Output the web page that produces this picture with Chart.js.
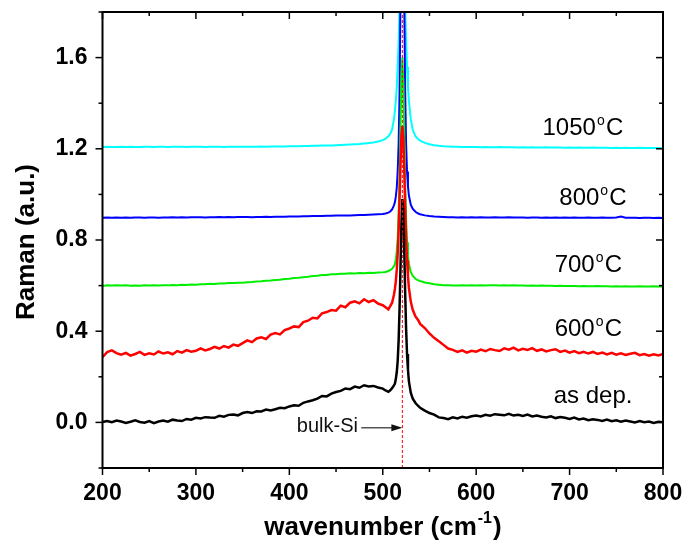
<!DOCTYPE html>
<html>
<head>
<meta charset="utf-8">
<script src="https://cdn.jsdelivr.net/npm/chart.js@4.4.1/dist/chart.umd.min.js"></script>
<style>
  html, body { margin: 0; padding: 0; background: #fff; }
  #wrap { width: 683px; height: 547px; }
</style>
</head>
<body>
<div id="wrap"><canvas id="grafico" width="683" height="547"></canvas></div>
<script>
// wavenumber grid (cm-1), denser around the Si peak
const wavenumber = [
  200,205,210,215,220,225,230,235,240,245,250,255,260,265,270,275,280,285,290,295,300,
  305,310,315,320,325,330,335,340,345,350,355,360,365,370,375,380,385,390,395,400,
  405,410,415,420,425,430,435,440,445,450,455,460,465,470,475,480,485,490,495,500,
  503,506,508,510,512,513,514,515,516,517,518,519,520,521,522,523,524,525,526,527,528,530,532,535,538,
  540,545,550,555,560,565,570,575,580,585,590,595,
  600,605,610,615,620,625,630,635,640,645,650,655,660,665,670,675,680,685,690,695,
  700,705,710,715,720,725,730,735,740,745,750,755,760,765,770,775,780,785,790,795,800
];

const asDep = [
  0.002,0.006,0.001,0.008,0.004,-0.002,0.003,0.009,0.002,-0.001,0.006,-0.003,0.004,0.008,0.003,0.012,0.008,0.006,0.015,0.012,0.020,
  0.017,0.023,0.021,0.020,0.029,0.025,0.033,0.035,0.031,0.041,0.046,0.041,0.049,0.048,0.056,0.052,0.058,0.064,0.062,0.070,
  0.075,0.073,0.086,0.092,0.097,0.104,0.116,0.114,0.126,0.133,0.138,0.149,0.146,0.157,0.152,0.163,0.158,0.160,0.153,0.148,
  0.140,0.134,0.141,0.150,0.162,0.17,0.19,0.22,0.27,0.36,0.50,0.68,0.87,0.98,0.93,0.76,0.57,0.41,0.30,0.23,0.18,0.13,0.105,0.085,0.072,
  0.064,0.052,0.041,0.034,0.022,0.019,0.014,0.022,0.017,0.025,0.021,0.027,
  0.030,0.026,0.033,0.029,0.036,0.034,0.031,0.038,0.030,0.033,0.028,0.034,0.026,0.030,0.025,0.022,0.027,0.019,0.024,0.020,
  0.015,0.021,0.013,0.017,0.010,0.014,0.011,0.006,0.012,0.005,0.009,0.003,0.008,0.004,0.000,0.006,0.001,0.004,-0.002,0.003,0.001
];

const t600 = [
  0.286,0.308,0.316,0.304,0.297,0.305,0.293,0.300,0.309,0.296,0.303,0.298,0.311,0.302,0.307,0.299,0.313,0.306,0.317,0.310,0.314,
  0.325,0.316,0.322,0.331,0.324,0.335,0.328,0.341,0.336,0.348,0.360,0.352,0.368,0.373,0.366,0.385,0.392,0.386,0.405,0.412,
  0.421,0.418,0.440,0.446,0.459,0.456,0.478,0.484,0.493,0.490,0.512,0.505,0.525,0.531,0.522,0.540,0.528,0.536,0.521,0.514,
  0.505,0.496,0.510,0.525,0.56,0.585,0.62,0.67,0.74,0.84,0.98,1.13,1.26,1.30,1.25,1.11,0.95,0.81,0.71,0.64,0.59,0.53,0.495,0.465,0.448,
  0.432,0.414,0.390,0.371,0.356,0.340,0.324,0.318,0.309,0.316,0.306,0.314,
  0.310,0.319,0.312,0.322,0.317,0.313,0.325,0.319,0.328,0.316,0.323,0.318,0.326,0.314,0.320,0.311,0.317,0.321,0.309,0.315,
  0.306,0.313,0.304,0.310,0.302,0.309,0.300,0.306,0.298,0.305,0.297,0.303,0.296,0.301,0.305,0.295,0.300,0.293,0.299,0.294,0.300
];

const t700 = [
  0.598,0.601,0.600,0.602,0.600,0.601,0.599,0.600,0.599,0.601,0.600,0.601,0.600,0.602,0.601,0.603,0.602,0.604,0.603,0.605,0.604,
  0.606,0.606,0.608,0.607,0.609,0.609,0.611,0.611,0.613,0.613,
  0.615,0.616,0.618,0.619,0.621,0.622,0.625,0.626,0.629,0.630,
  0.633,0.634,0.637,0.639,0.642,0.643,0.646,0.647,0.650,0.650,
  0.652,0.652,0.654,0.653,0.655,0.654,0.656,0.655,0.657,0.658,
  0.660,0.664,0.668,0.674,0.685,0.695,0.715,0.750,0.810,0.920,1.080,1.300,1.510,1.600,1.500,1.280,1.050,0.890,0.790,0.730,0.695,0.660,0.643,0.630,0.623,
  0.620,0.614,0.610,0.606,0.604,0.602,
  0.601,0.600,0.600,0.601,0.600,0.601,
  0.600,0.601,0.600,0.601,0.601,0.600,0.601,0.600,0.601,0.600,
  0.600,0.599,0.600,0.599,0.600,0.599,0.599,0.598,0.599,0.598,
  0.598,0.598,0.597,0.598,0.597,0.597,0.598,0.597,0.597,0.596,
  0.597,0.596,0.597,0.596,0.596,0.597,0.596,0.596,0.597,0.596,0.596
];

const t800 = [
  0.898,0.899,0.898,0.899,0.898,0.899,0.898,0.899,0.899,0.898,0.899,0.899,0.898,0.899,0.899,0.900,0.899,0.900,0.899,0.900,0.900,
  0.900,0.899,0.900,0.900,0.901,0.900,0.901,0.900,0.901,0.901,
  0.901,0.900,0.901,0.901,0.902,0.901,0.902,0.902,0.902,0.903,
  0.903,0.903,0.904,0.904,0.905,0.905,0.905,0.906,0.906,0.907,
  0.907,0.908,0.908,0.909,0.910,0.910,0.911,0.912,0.913,0.914,
  0.916,0.920,0.925,0.934,0.952,0.966,0.990,1.030,1.100,1.220,1.450,1.850,2.350,2.600,2.350,1.850,1.450,1.220,1.100,1.035,0.995,0.955,0.937,0.924,0.916,
  0.913,0.908,0.905,0.903,0.902,0.901,
  0.900,0.900,0.899,0.900,0.899,0.900,
  0.899,0.900,0.899,0.899,0.900,0.899,0.899,0.900,0.899,0.899,
  0.899,0.898,0.899,0.899,0.898,0.899,0.898,0.899,0.898,0.899,
  0.898,0.899,0.898,0.898,0.899,0.898,0.898,0.899,0.898,0.898,
  0.899,0.903,0.898,0.898,0.898,0.897,0.898,0.898,0.897,0.898,0.897
];

const t1050 = [
  1.208,1.209,1.208,1.208,1.209,1.208,1.209,1.208,1.208,1.209,1.209,1.208,1.209,1.209,1.208,1.209,1.209,1.209,1.208,1.209,1.209,
  1.209,1.208,1.209,1.209,1.209,1.208,1.209,1.209,1.209,1.209,
  1.209,1.209,1.209,1.210,1.209,1.210,1.210,1.210,1.210,1.211,
  1.211,1.211,1.212,1.212,1.213,1.213,1.214,1.214,1.215,1.216,
  1.217,1.218,1.219,1.220,1.221,1.223,1.225,1.228,1.232,1.238,
  1.244,1.255,1.266,1.285,1.330,1.365,1.410,1.470,1.560,1.670,1.820,2.100,2.500,2.700,2.500,2.100,1.820,1.670,1.560,1.470,1.410,1.330,1.285,1.255,1.242,
  1.236,1.226,1.220,1.216,1.213,1.211,
  1.210,1.209,1.209,1.208,1.208,1.208,
  1.208,1.207,1.208,1.207,1.207,1.208,1.207,1.207,1.207,1.206,
  1.207,1.206,1.207,1.206,1.206,1.207,1.206,1.206,1.206,1.205,
  1.206,1.205,1.206,1.205,1.205,1.206,1.205,1.205,1.205,1.204,
  1.205,1.204,1.205,1.204,1.204,1.205,1.204,1.204,1.204,1.203,1.204
];

const bulkSi = 521;
const seriesNames = ['as dep.', '600', '700', '800', '1050'];
const seriesColors = ['#000000', '#ff0000', '#00ee00', '#0000ff', '#00ffff'];
const seriesWidths = [2.5, 2.5, 2, 2, 2];
const xMajor = [200, 300, 400, 500, 600, 700, 800];
const yMajor = [0.0, 0.4, 0.8, 1.2, 1.6];

// where the curve names sit (data units)
const labelAt = [[683, 0.086], [684, 0.38], [684, 0.66], [689, 0.955], [671, 1.262]];

const pts = ys => wavenumber.map((x, i) => ({ x: x, y: ys[i] }));

Chart.defaults.font.family = '"Liberation Sans", Arial, sans-serif';
Chart.defaults.color = '#000';

const decor = {
  id: 'decor',
  afterDraw(chart) {
    const { ctx, chartArea: a, scales: { x, y } } = chart;
    ctx.save();
    ctx.strokeStyle = '#000';
    ctx.fillStyle = '#000';

    const line = (x1, y1, x2, y2) => {
      ctx.beginPath(); ctx.moveTo(x1, y1); ctx.lineTo(x2, y2); ctx.stroke();
    };

    // ticks: outward on left/bottom, inward on right/top
    ctx.lineWidth = 1.5;
    y.ticks.forEach(t => {
      const py = y.getPixelForValue(t.value);
      const len = t.label ? 7 : 4;
      line(a.left - len, py, a.left, py);
      line(a.right, py, a.right - len, py);
    });
    x.ticks.forEach(t => {
      const px = x.getPixelForValue(t.value);
      const len = t.label ? 7 : 4;
      line(px, a.bottom, px, a.bottom + len);
      line(px, a.top, px, a.top + len);
    });

    ctx.lineWidth = 2;
    ctx.strokeRect(a.left, a.top, a.right - a.left, a.bottom - a.top);

    // curve names
    ctx.textAlign = 'left';
    ctx.textBaseline = 'alphabetic';
    seriesNames.forEach((n, i) => {
      const px = x.getPixelForValue(labelAt[i][0]);
      const py = y.getPixelForValue(labelAt[i][1]);
      ctx.font = '24px "Liberation Sans", Arial';
      ctx.fillText(n, px, py);
      if (i > 0) {
        const w = ctx.measureText(n).width;
        ctx.fillText('C', px + w + 10, py);
        ctx.font = '14px "Liberation Sans", Arial';
        ctx.fillText('o', px + w + 1, py - 9.5);
      }
    });

    // bulk-Si marker
    const ay = y.getPixelForValue(-0.023);
    const ax1 = x.getPixelForValue(477);
    const ax2 = x.getPixelForValue(bulkSi);
    ctx.strokeStyle = '#555';
    ctx.lineWidth = 1.5;
    line(ax1, ay, ax2 - 8, ay);
    ctx.fillStyle = '#111';
    ctx.beginPath();
    ctx.moveTo(ax2, ay);
    ctx.lineTo(ax2 - 11, ay - 3.5);
    ctx.lineTo(ax2 - 11, ay + 3.5);
    ctx.closePath();
    ctx.fill();
    ctx.font = '20px "Liberation Sans", Arial';
    ctx.fillStyle = '#111';
    ctx.fillText('bulk-Si', x.getPixelForValue(408), y.getPixelForValue(-0.041));

    // axis titles
    ctx.fillStyle = '#000';
    ctx.save();
    ctx.translate(27, 242);
    ctx.rotate(-Math.PI / 2);
    ctx.textAlign = 'center';
    ctx.textBaseline = 'middle';
    ctx.font = 'bold 26px "Liberation Sans", Arial';
    ctx.fillText('Raman (a.u.)', 0, 0);
    ctx.restore();

    const big = 'bold 26px "Liberation Sans", Arial';
    const sup = 'bold 16px "Liberation Sans", Arial';
    ctx.font = big;
    const w1 = ctx.measureText('wavenumber (cm').width;
    const w3 = ctx.measureText(')').width;
    ctx.font = sup;
    const w2 = ctx.measureText('-1').width;
    let tx = 383 - (w1 + w2 + w3 + 2) / 2;
    const ty = 535;
    ctx.font = big;
    ctx.fillText('wavenumber (cm', tx, ty);
    ctx.font = sup;
    ctx.fillText('-1', tx + w1 + 1, ty - 12);
    ctx.font = big;
    ctx.fillText(')', tx + w1 + w2 + 2, ty);
    ctx.restore();
  }
};

const datasets = [{
  data: [{ x: bulkSi, y: -0.2 }, { x: bulkSi, y: 1.8 }],
  borderColor: '#ff0000',
  borderWidth: 1,
  borderDash: [3, 2]
}];
[asDep, t600, t700, t800, t1050].forEach((s, i) => {
  datasets.push({ data: pts(s), borderColor: seriesColors[i], borderWidth: seriesWidths[i] });
});

new Chart(grafico, {
  type: 'line',
  data: { datasets: datasets },
  options: {
    responsive: false,
    animation: false,
    elements: { point: { radius: 0 }, line: { tension: 0 } },
    layout: { padding: { left: 0, right: 20, top: 12, bottom: 0 } },
    plugins: { legend: { display: false }, tooltip: { enabled: false } },
    scales: {
      x: {
        type: 'linear', min: 200, max: 800,
        afterFit: s => { s.height = 79; s.paddingLeft = 0; s.paddingRight = 0; },
        grid: { display: false, drawTicks: false },
        border: { display: false },
        ticks: {
          stepSize: 50, padding: 12, maxRotation: 0, autoSkip: false,
          font: { size: 23, weight: 'bold' },
          callback: v => xMajor.includes(v) ? String(v) : ''
        }
      },
      y: {
        type: 'linear', min: -0.2, max: 1.8,
        afterFit: s => { s.width = 102.5; s.paddingTop = 0; s.paddingBottom = 0; },
        grid: { display: false, drawTicks: false },
        border: { display: false },
        ticks: {
          stepSize: 0.2, padding: 15, autoSkip: false,
          font: { size: 23, weight: 'bold' },
          callback: v => yMajor.some(m => Math.abs(m - v) < 1e-6) ? v.toFixed(1) : ''
        }
      }
    }
  },
  plugins: [decor]
});
</script>
</body>
</html>
